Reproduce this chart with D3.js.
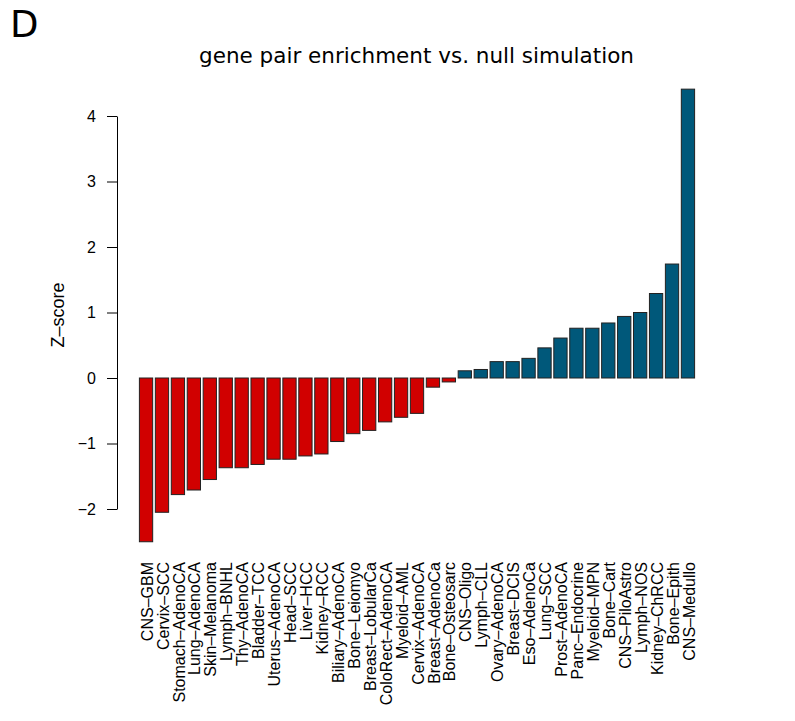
<!DOCTYPE html>
<html>
<head>
<meta charset="utf-8">
<script src="https://cdn.jsdelivr.net/npm/d3@7"></script>
<style>
  html, body { margin: 0; padding: 0; background: #ffffff; }
  svg { display: block; }
</style>
</head>
<body>
<svg id="chart" width="795" height="721"></svg>
<script>
const categories = [
  "CNS–GBM", "Cervix–SCC", "Stomach–AdenoCA", "Lung–AdenoCA", "Skin–Melanoma",
  "Lymph–BNHL", "Thy–AdenoCA", "Bladder–TCC", "Uterus–AdenoCA", "Head–SCC",
  "Liver–HCC", "Kidney–RCC", "Biliary–AdenoCA", "Bone–Leiomyo", "Breast–LobularCa",
  "ColoRect–AdenoCA", "Myeloid–AML", "Cervix–AdenoCA", "Breast–AdenoCa", "Bone–Osteosarc",
  "CNS–Oligo", "Lymph–CLL", "Ovary–AdenoCA", "Breast–DCIS", "Eso–AdenoCa",
  "Lung–SCC", "Prost–AdenoCA", "Panc–Endocrine", "Myeloid–MPN", "Bone–Cart",
  "CNS–PiloAstro", "Lymph–NOS", "Kidney–ChRCC", "Bone–Epith", "CNS–Medullo"
];
const zscores = [
  -2.50, -2.05, -1.78, -1.71, -1.55,
  -1.37, -1.37, -1.32, -1.24, -1.24,
  -1.19, -1.16, -0.97, -0.85, -0.80,
  -0.67, -0.60, -0.54, -0.14, -0.06,
  0.11, 0.13, 0.25, 0.25, 0.30,
  0.46, 0.61, 0.76, 0.76, 0.84,
  0.94, 1.00, 1.29, 1.74, 4.41
];
const yTicks = [-2, -1, 0, 1, 2, 3, 4];
const title = "gene pair enrichment vs. null simulation";
const panelLetter = "D";
const yLabel = "Z–score";
const negColor = "#d10000";
const posColor = "#00587a";

const svg = d3.select("#chart");
const labelFont = "'Liberation Sans', Arial, Helvetica, sans-serif";
const axisFontSize = 16;

const x = d3.scaleBand()
  .domain(categories)
  .range([139.4, 694.6])
  .paddingInner(1 / 6)
  .paddingOuter(0);

const y = d3.scaleLinear()
  .domain([-2, 4])
  .range([509, 116]);

// Bars
svg.append("g")
  .selectAll("rect")
  .data(categories.map((c, i) => ({ c, v: zscores[i] })))
  .join("rect")
  .attr("x", d => x(d.c))
  .attr("width", x.bandwidth())
  .attr("y", d => Math.min(y(d.v), y(0)))
  .attr("height", d => Math.abs(y(d.v) - y(0)))
  .attr("fill", d => d.v < 0 ? negColor : posColor)
  .attr("stroke", "#222")
  .attr("stroke-width", 1);

// Y axis
const yAxis = d3.axisLeft(y)
  .tickValues(yTicks)
  .tickFormat(d => d < 0 ? "−" + Math.abs(d) : String(d))
  .tickSize(10)
  .tickSizeOuter(0)
  .tickPadding(11);

const gy = svg.append("g")
  .attr("transform", "translate(117,0)")
  .call(yAxis);
gy.select(".domain").attr("stroke", "#000").attr("stroke-width", 1);
gy.selectAll(".tick line").attr("stroke", "#000");
gy.selectAll(".tick text")
  .attr("font-family", labelFont)
  .attr("font-size", axisFontSize)
  .attr("fill", "#000");

// Category labels (rotated)
svg.append("g")
  .selectAll("text")
  .data(categories)
  .join("text")
  .attr("transform", d => `translate(${x(d) + x.bandwidth() / 2 + 1},562) rotate(-90)`)
  .attr("text-anchor", "end")
  .attr("dy", "0.35em")
  .attr("font-family", labelFont)
  .attr("font-size", axisFontSize)
  .attr("fill", "#000")
  .text(d => d);

// Y label
svg.append("text")
  .attr("transform", "translate(64,315) rotate(-90)")
  .attr("text-anchor", "middle")
  .attr("font-family", labelFont)
  .attr("font-size", 18)
  .attr("fill", "#000")
  .text(yLabel);

// Title
svg.append("text")
  .attr("x", 416.5)
  .attr("y", 63)
  .attr("text-anchor", "middle")
  .attr("font-family", "'DejaVu Sans', sans-serif")
  .attr("font-size", 21.5)
  .attr("fill", "#000")
  .text(title);

// Panel letter
svg.append("text")
  .attr("x", 10)
  .attr("y", 37)
  .attr("font-family", "'DejaVu Sans', sans-serif")
  .attr("font-size", 37)
  .attr("fill", "#000")
  .text(panelLetter);
</script>
</body>
</html>
